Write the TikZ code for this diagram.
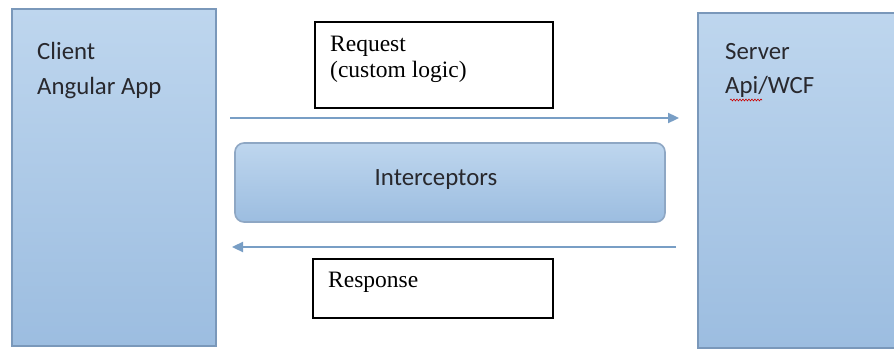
\documentclass[tikz,border=0pt]{standalone}
\usepackage{fontspec}
\setmainfont{Carlito}
\newfontfamily\serifface{Liberation Serif}
\usetikzlibrary{arrows.meta,decorations.pathmorphing}
\definecolor{boxtop}{RGB}{190,214,238}
\definecolor{boxbot}{RGB}{156,189,224}
\definecolor{boxline}{RGB}{122,152,186}
\definecolor{arrowc}{RGB}{120,158,197}
\definecolor{txt}{RGB}{40,40,45}
\tikzset{
  bigbox/.style={draw=boxline, line width=1.6pt, top color=boxtop, bottom color=boxbot, inner sep=0pt},
  interbox/.style={draw=boxline!85, line width=1.6pt, top color=boxtop, bottom color=boxbot, rounded corners=9pt, inner sep=0pt},
  notebox/.style={draw=black, line width=1.3pt, fill=white, inner sep=0pt},
  calitext/.style={anchor=base west, inner sep=0pt, text=txt, font=\fontsize{24.8}{28}\selectfont},
  timestext/.style={anchor=base west, inner sep=0pt, text=black, font=\serifface\fontsize{23.5}{28}\selectfont},
  flow/.style={draw=arrowc, line width=2.3pt, -{Triangle[length=11pt,width=10pt]}}
}
\begin{document}
\begin{tikzpicture}[x=1pt,y=-1pt]
\useasboundingbox (0,0) rectangle (894,350);
\clip (0,0) rectangle (894,350);
\fill[white] (0,0) rectangle (894,350);
% big boxes
\node[bigbox, minimum width=204pt, minimum height=337pt] (client) at (114,177.5) {};
\node[bigbox, minimum width=212pt, minimum height=335pt] (server) at (804,180.5) {};
% texts in big boxes
\node[calitext] (clientt) at (37,60) {Client};
\node[calitext] (clienta) at (37,95) {Angular App};
\node[calitext] (servert) at (725,60) {Server};
\node[calitext] (servera) at (725,94) {Api/WCF};
\draw[red!80!black, line width=0.6pt, decorate, decoration={snake, amplitude=0.9pt, segment length=3pt}] (730,100) -- (762,100);
% request
\node[notebox, minimum width=238pt, minimum height=86pt] (req) at (434,65) {};
\node[timestext] (reqt) at (330,52) {Request};
\node[timestext] (reqc) at (330,78) {(custom logic)};
% interceptors
\node[interbox, minimum width=430pt, minimum height=79pt] (inter) at (450,182.5) {};
\node[calitext, anchor=base] (intert) at (436,185) {Interceptors};
% response
\node[notebox, minimum width=240pt, minimum height=59pt] (resp) at (433,288.5) {};
\node[timestext] (respt) at (328,287) {Response};
% arrows
\coordinate (rqa) at (230,118);
\coordinate (rqb) at (679,118);
\coordinate (rsa) at (676,247);
\coordinate (rsb) at (232,247);
\draw[flow] (rqa) -- (rqb);
\draw[flow] (rsa) -- (rsb);
\end{tikzpicture}
\end{document}
